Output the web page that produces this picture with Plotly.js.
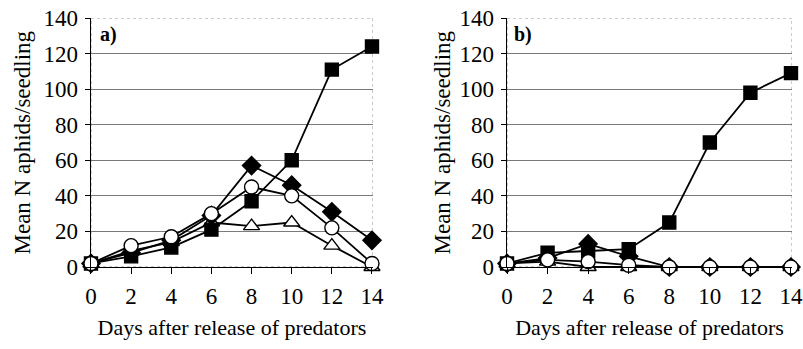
<!DOCTYPE html>
<html><head><meta charset="utf-8">
<script src="https://cdn.plot.ly/plotly-3.0.1.min.js"></script>
<style>html,body{margin:0;padding:0;background:#fff}#c{width:803px;height:349px}</style>
</head><body><div id="c"></div>
<script>
var days = [0, 2, 4, 6, 8, 10, 12, 14];
var yTicks = [0, 20, 40, 60, 80, 100, 120, 140];
// panel a
var aSquare   = [2, 6, 11, 21, 37, 60, 111, 124];
var aDiamond  = [2, 8, 15, 29, 57, 46, 31, 15];
var aCircle   = [2, 12, 17, 30, 45, 40, 22, 2];
var aTriangle = [2, 9, 14, 25, 23, 25, 12, 0];
// panel b
var bSquare   = [2, 8, 9, 10, 25, 70, 98, 109];
var bDiamond  = [2, 5, 13, 6, 0, 0, 0, 0];
var bCircle   = [2, 4, 3, 1, 0, 0, 0, 0];
var bTriangle = [2, 3, 0, 0, 0, 0, 0, 0];

function tr(y, sym, fill, size, xa, ya) {
  return {x: days, y: y, xaxis: xa, yaxis: ya, mode: 'lines+markers', cliponaxis: false,
    line: {color: '#000', width: 1.8},
    marker: {symbol: sym, size: size, color: fill, line: {color: '#000', width: 1.4}},
    showlegend: false};
}
var data = [
  tr(aTriangle, 'triangle-up', '#fff', 14, 'x', 'y'),
  tr(aDiamond, 'diamond', '#000', 14, 'x', 'y'),
  tr(aSquare, 'square', '#000', 13, 'x', 'y'),
  tr(aCircle, 'circle', '#fff', 14, 'x', 'y'),
  tr(bTriangle, 'triangle-up', '#fff', 14, 'x2', 'y2'),
  tr(bDiamond, 'diamond', '#000', 14, 'x2', 'y2'),
  tr(bSquare, 'square', '#000', 13, 'x2', 'y2'),
  tr(bCircle, 'circle', '#fff', 14, 'x2', 'y2')
];
var fam = 'Liberation Serif';
var tickFont = {family: fam, size: 23, color: '#000'};
var xTitleFont = {family: fam, size: 22, color: '#000'};
var yTitleFont = {family: fam, size: 23, color: '#000'};
var xTitle = 'Days after release of predators';
var yTitle = 'Mean N aphids/seedling';
function xax(dom, anchor) {
  return {domain: dom, anchor: anchor, range: [0, 14.05], tickvals: days, ticktext: days.map(String),
    showgrid: false, zeroline: false, showline: true, linecolor: '#000', linewidth: 1.4,
    ticks: 'outside', ticklen: 6, tickcolor: '#000', tickwidth: 1, tickfont: tickFont,
    ticklabelstandoff: 2,
    title: {text: xTitle, font: xTitleFont, standoff: 11}};
}
function yax(anchor) {
  return {domain: [0, 1], anchor: anchor, range: [0, 140], tickvals: yTicks,
    showgrid: true, gridcolor: '#7a7a7a', gridwidth: 1, zeroline: false,
    showline: true, linecolor: '#000', linewidth: 1.4, ticks: 'outside', ticklen: 5,
    tickcolor: '#000', tickfont: tickFont, ticklabelstandoff: 2};
}
var layout = {
  width: 803, height: 349, margin: {l: 0, r: 0, t: 18, b: 82},
  paper_bgcolor: '#fff', plot_bgcolor: '#fff', font: tickFont,
  xaxis: xax([0.1133, 0.4645], 'y'),
  yaxis: yax('x'),
  xaxis2: xax([0.6314, 0.9863], 'y2'),
  yaxis2: yax('x2'),
  shapes: [
    {type: 'rect', xref: 'x', yref: 'y', x0: 0, x1: 14.05, y0: 0, y1: 140, layer: 'below',
     line: {color: '#999', width: 1, dash: 'dot'}},
    {type: 'rect', xref: 'x2', yref: 'y2', x0: 0, x1: 14.05, y0: 0, y1: 140, layer: 'below',
     line: {color: '#999', width: 1, dash: 'dot'}}
  ],
  annotations: [
    {text: '<b>a)</b>', xref: 'x', yref: 'y', x: 0.35, y: 131, xanchor: 'left', yanchor: 'middle', showarrow: false, font: {family: fam, size: 20, color: '#000'}},
    {text: '<b>b)</b>', xref: 'x2', yref: 'y2', x: 0.25, y: 131, xanchor: 'left', yanchor: 'middle', showarrow: false, font: {family: fam, size: 20, color: '#000'}},
    {text: yTitle, textangle: -90, xref: 'paper', yref: 'y', x: 22 / 803, y: 70, xanchor: 'center', yanchor: 'middle', showarrow: false, font: yTitleFont},
    {text: yTitle, textangle: -90, xref: 'paper', yref: 'y2', x: 442 / 803, y: 70, xanchor: 'center', yanchor: 'middle', showarrow: false, font: yTitleFont}
  ]
};
Plotly.newPlot('c', data, layout, {staticPlot: true, displayModeBar: false});
</script></body></html>
